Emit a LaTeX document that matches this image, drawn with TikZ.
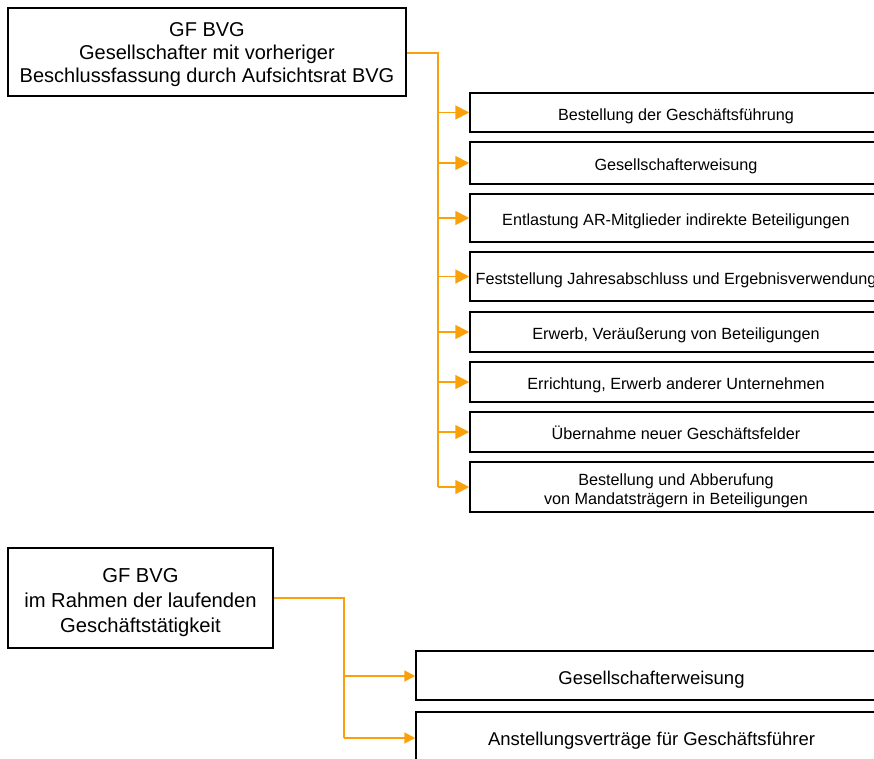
\documentclass[tikz,border=0pt]{standalone}
\usepackage{fontspec}
\setmainfont{Liberation Sans}
\usetikzlibrary{arrows.meta}
\definecolor{conn}{RGB}{250,160,10}
\tikzset{
  box/.style={draw=black, line width=1.5pt, fill=white, inner sep=0pt, align=center, text=black},
  big/.style={font=\fontsize{20}{22.8}\selectfont, text height=60.6pt, text depth=0pt},
  bigb/.style={font=\fontsize{20.2}{25}\selectfont, text height=68.6pt, text depth=0pt},
  small/.style={font=\fontsize{16.2}{19}\selectfont, text height=15pt, text depth=0pt},
  smalltwo/.style={font=\fontsize{16.2}{19}\selectfont, text height=34pt, text depth=0pt},
  mid/.style={font=\fontsize{18.5}{22}\selectfont, text height=17.2pt, text depth=0pt},
  line/.style={draw=conn, line width=1.8pt},
  arr/.style={draw=conn, line width=1.8pt, -{Triangle[length=14pt,width=14pt]}},
  arrb/.style={draw=conn, line width=1.8pt, -{Triangle[length=11pt,width=11pt]}},
}
\begin{document}
\begin{tikzpicture}[x=1pt,y=-1pt]
\useasboundingbox (0,0) rectangle (874,758);
\clip (0,0) rectangle (874,758);
% top left
\node[box,big,minimum width=398pt,minimum height=88pt] (top) at (207,52)
  {GF BVG\\Gesellschafter mit vorheriger\\Beschlussfassung durch Aufsichtsrat BVG};
% right boxes
\node[box,small,minimum width=412pt,minimum height=39pt] (b1) at (676,112.5) {Bestellung der Geschäftsführung};
\node[box,small,minimum width=412pt,minimum height=42pt] (b2) at (676,163) {Gesellschafterweisung};
\node[box,small,minimum width=412pt,minimum height=48pt] (b3) at (676,218) {Entlastung AR-Mitglieder indirekte Beteiligungen};
\node[box,small,minimum width=412pt,minimum height=49pt] (b4) at (676,276.5) {Feststellung Jahresabschluss und Ergebnisverwendung};
\node[box,small,minimum width=412pt,minimum height=40pt] (b5) at (676,332) {Erwerb, Veräußerung von Beteiligungen};
\node[box,small,minimum width=412pt,minimum height=40pt] (b6) at (676,382) {Errichtung, Erwerb anderer Unternehmen};
\node[box,small,minimum width=412pt,minimum height=40pt] (b7) at (676,432) {Übernahme neuer Geschäftsfelder};
\node[box,smalltwo,minimum width=412pt,minimum height=50pt] (b8) at (676,487) {Bestellung und Abberufung\\von Mandatsträgern in Beteiligungen};
% connectors top
\coordinate (j1) at (438,52.7);
\draw[line] (top.east |- j1) -- (j1) -- (j1 |- b8.west);
\foreach \b in {b1,b2,b3,b4,b5,b6,b7,b8}
  \draw[arr] (j1 |- \b.west) -- (\b.west);
% bottom left
\node[box,bigb,minimum width=265pt,minimum height=100pt] (bot) at (140.5,598) {GF BVG\\im Rahmen der laufenden\\Geschäftstätigkeit};
\node[box,mid,minimum width=471pt,minimum height=49pt] (c1) at (651.5,675.5) {Gesellschafterweisung};
\node[box,mid,minimum width=471pt,minimum height=49pt] (c2) at (651.5,736.5) {Anstellungsverträge für Geschäftsführer};
\coordinate (j2) at (344,598);
\draw[line] (bot.east |- j2) -- (j2) -- (j2 |- 0,738);
\draw[arrb] (j2 |- 0,676) -- (c1.west |- 0,676);
\draw[arrb] (j2 |- 0,738) -- (c2.west |- 0,738);
\end{tikzpicture}
\end{document}
